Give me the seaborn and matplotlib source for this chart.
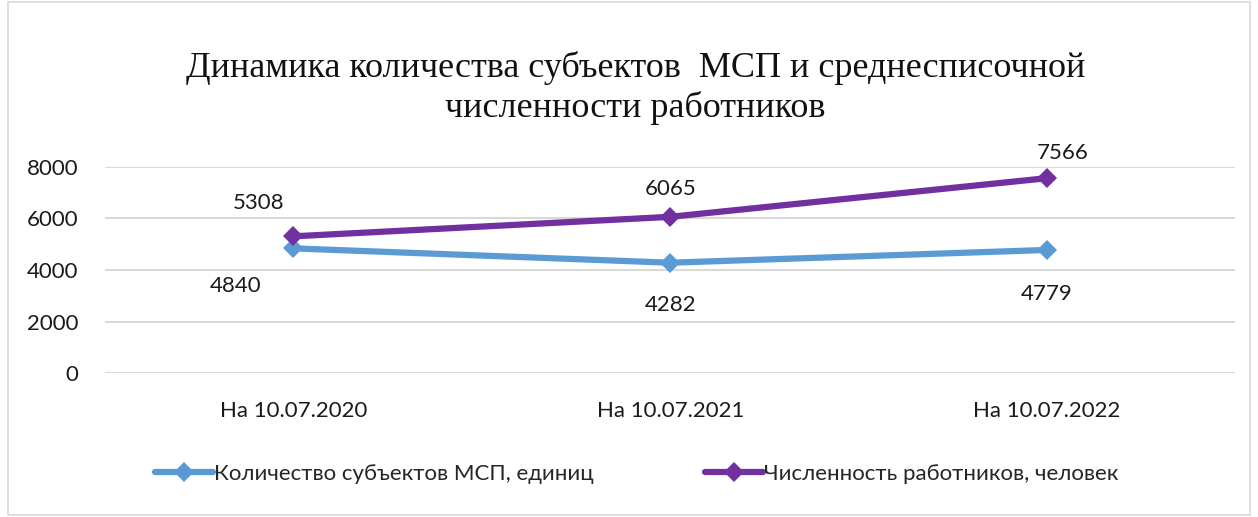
import pandas as pd
import matplotlib.pyplot as plt
import seaborn as sns

dates = ['На 10.07.2020', 'На 10.07.2021', 'На 10.07.2022']
smp_count = [4840, 4282, 4779]
workers = [5308, 6065, 7566]
series_names = ['Количество субъектов МСП, единиц', 'Численность работников, человек']
colors = ['#5B9BD5', '#7030A0']

df = pd.DataFrame({
	'date': dates * 2,
	'value': smp_count + workers,
	'series': [series_names[0]] * 3 + [series_names[1]] * 3,
})

sns.set_style('white')
plt.rcParams['font.family'] = ['Lato', 'DejaVu Sans']

fig = plt.figure(figsize=(12.58, 5.17), dpi=100)
ax = fig.add_axes([0.0835, 0.2785, 0.8985, 0.3985])

sns.lineplot(data=df, x='date', y='value', hue='series', palette=colors,
	marker='D', markersize=10, linewidth=4.5, markeredgewidth=0, sort=False, ax=ax)

ax.set_xlim(-0.5, 2.5)
ax.set_ylim(0, 8000)
ax.set_yticks([0, 2000, 4000, 6000, 8000])
ax.grid(axis='y', color='#d9d9d9', linewidth=1.5)
for s in ax.spines.values():
	s.set_visible(False)
ax.tick_params(axis='both', length=0, labelsize=16, colors='#1a1a1a')
ax.tick_params(axis='x', pad=20)
ax.tick_params(axis='y', pad=19)
ax.set_xlabel('')
ax.set_ylabel('')

# data labels
offsets_low = [(-58, -38), (0, -42), (0, -44)]
offsets_high = [(-35, 33), (0, 28), (16, 25)]
for i, v in enumerate(smp_count):
	ax.annotate(str(v), (i, v), xytext=offsets_low[i], textcoords='offset pixels',
		ha='center', va='center', fontsize=16, color='#1a1a1a')
for i, v in enumerate(workers):
	ax.annotate(str(v), (i, v), xytext=offsets_high[i], textcoords='offset pixels',
		ha='center', va='center', fontsize=16, color='#1a1a1a')

handles, labels = ax.get_legend_handles_labels()
ax.legend(handles, labels, loc='center', bbox_to_anchor=(0.506, 0.083), bbox_transform=fig.transFigure,
	ncol=2, frameon=False, fontsize=16, handlelength=2.6, handletextpad=0.05, columnspacing=5.0)

fig.text(0.505, 0.83, 'Динамика количества субъектов  МСП и среднесписочной\nчисленности работников',
	ha='center', va='center', fontsize=26, family=['Liberation Serif'], linespacing=1.25, color='#111111')

# chart frame
fig.patches.append(plt.Rectangle((0.006, 0.004), 0.988, 0.992, transform=fig.transFigure,
	fill=False, edgecolor='#d9d9d9', linewidth=1.2))

fig.savefig('out.png', dpi=100)
